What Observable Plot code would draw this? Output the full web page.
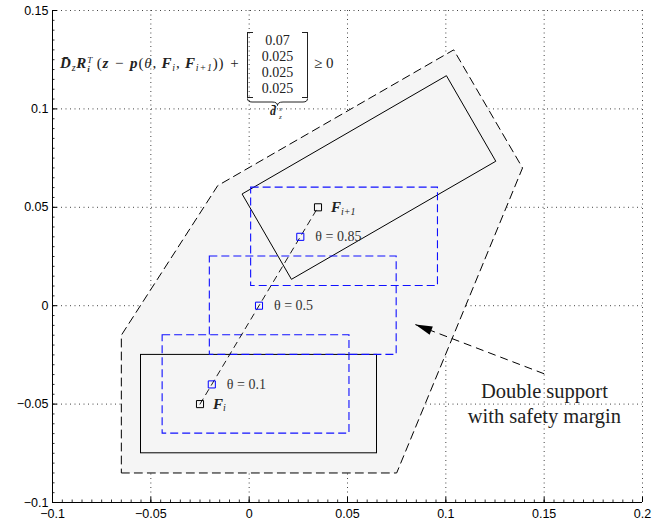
<!DOCTYPE html>
<html>
<head>
<meta charset="utf-8">
<script src="https://cdn.jsdelivr.net/npm/d3@7"></script>
<script src="https://cdn.jsdelivr.net/npm/@observablehq/plot@0.6"></script>
<style>
  body { margin: 0; background: #fff; }
  #chart { position: relative; width: 668px; height: 524px; }
  #eq { position: absolute; left: 0; top: 0; font-family: 'Liberation Serif', serif; color: #222; font-size: 13px; }
  #lhs { position: absolute; left: 60px; top: 54px; white-space: nowrap; line-height: 18px; font-size: 15px; letter-spacing: 0.8px; }
  .bv { font-weight: bold; font-style: italic; }
  .it { font-style: italic; }
  #lhs sub { font-size: 10px; vertical-align: -3px; line-height: 0; }
  .ss { display: inline-block; vertical-align: -4px; font-size: 9px; line-height: 9px; text-align: left; }
  .ss > span { display: block; }
  #mat { position: absolute; left: 247px; top: 32px; width: 61px; height: 66px; }
  .brk { position: absolute; top: 0; width: 5px; height: 64px; border: 1px solid #222; }
  .brk.l { left: 0; border-right: none; }
  .brk.r { right: 0; border-left: none; }
  #rows { position: absolute; left: 0; right: 0; top: 1px; text-align: center; line-height: 16px; font-size: 14px; }
  #geq { position: absolute; left: 314px; top: 54px; line-height: 18px; font-size: 15px; white-space: nowrap; }
  #brace { position: absolute; left: 247px; top: 98px; }
  #dlbl { position: absolute; left: 270px; top: 105px; font-size: 12px; line-height: 13px; white-space: nowrap; }
  #dlbl .ss { font-size: 7px; line-height: 8px; vertical-align: -4px; margin-left: 3px; }
</style>
</head>
<body>
<div id="chart"></div>
<script>
// Axis ticks and their labels
const xTicks = [-0.1, -0.05, 0, 0.05, 0.1, 0.15, 0.2];
const xTickLabels = ["−0.1", "−0.05", "0", "0.05", "0.1", "0.15", "0.2"];
const yTicks = [-0.1, -0.05, 0, 0.05, 0.1, 0.15];
const yTickLabels = ["−0.1", "−0.05", "0", "0.05", "0.1", "0.15"];

// Foot positions F_i and F_{i+1}
const footNames = ["i", "i+1"];
const footX = [-0.025, 0.035];
const footY = [-0.05, 0.05];

// Interpolated reference points p(θ)
const thetas = [0.1, 0.5, 0.85];
const comX = [-0.019, 0.005, 0.026];
const comY = [-0.04, 0.0, 0.035];

// Safety margins d_z^s: forward, backward, left, right
const margins = [0.07, 0.025, 0.025, 0.025];

// Support foot rectangle at F_i
const footRectX = [-0.055, 0.065];
const footRectY = [-0.075, -0.025];

// Rotated foot rectangle at F_{i+1} (corners)
const swingFootX = [-0.0035, 0.0215, 0.1254, 0.1004];
const swingFootY = [0.0566, 0.0134, 0.0734, 0.1167];

// Double-support polygon with safety margin (corners)
const hullX = [-0.065, 0.075, 0.139, 0.104, -0.016, -0.065];
const hullY = [-0.085, -0.085, 0.07, 0.13, 0.061, -0.015];

// Annotation
const noteText = "Double support\nwith safety margin";
const noteX = 0.1501;
const noteY = -0.0494;
const arrowFrom = [0.150, -0.0346];
const arrowTo = [0.0845, -0.0096];

const xLabel = new Map(xTicks.map((d, i) => [d, xTickLabels[i]]));
const yLabel = new Map(yTicks.map((d, i) => [d, yTickLabels[i]]));
const feet = footX.map((x, i) => ({x, y: footY[i], name: footNames[i]}));
const coms = thetas.map((t, i) => ({x: comX[i], y: comY[i], label: `θ = ${t}`}));
const comRects = coms.map(c => ({
  x1: c.x - margins[1], x2: c.x + margins[0],
  y1: c.y - margins[3], y2: c.y + margins[2]
}));
const swingFoot = swingFootX.map((x, i) => ({x, y: swingFootY[i]}));
const hull = hullX.map((x, i) => ({x, y: hullY[i]}));
const minorX = d3.range(-0.1, 0.2001, 0.005);
const minorY = d3.range(-0.1, 0.1501, 0.005);

// Filled arrowhead with its tip at the origin, pointing up
const arrowHead = {
  draw(ctx) {
    ctx.moveTo(0, 0);
    ctx.lineTo(-4.5, 17);
    ctx.lineTo(4.5, 17);
    ctx.closePath();
  }
};
const arrowAngle = Math.atan2(arrowTo[0] - arrowFrom[0], arrowTo[1] - arrowFrom[1]) * 180 / Math.PI;

const plotW = 668 - 52 - 26;
const plotH = 524 - 10 - 22;
const serif = "'Liberation Serif', 'Times New Roman', serif";

const chart = Plot.plot({
  width: 668,
  height: 524,
  marginLeft: 52,
  marginRight: 26,
  marginTop: 10,
  marginBottom: 22,
  x: {domain: [-0.1, 0.2]},
  y: {domain: [-0.1, 0.15]},
  style: {fontFamily: "'Liberation Sans', Arial, sans-serif", fontSize: "12.5px", color: "#000", background: "#fff"},
  marks: [
    // dotted grid
    Plot.ruleX(xTicks, {stroke: "#444", strokeDasharray: "1,3.5"}),
    Plot.ruleY(yTicks, {stroke: "#444", strokeDasharray: "1,3.5"}),
    // double-support region
    Plot.line(hull, {x: "x", y: "y", curve: "linear-closed", fill: "#f5f5f5", stroke: "#000", strokeWidth: 1, strokeDasharray: "8,5"}),
    // feet
    Plot.rect([{x1: footRectX[0], x2: footRectX[1], y1: footRectY[0], y2: footRectY[1]}],
      {x1: "x1", x2: "x2", y1: "y1", y2: "y2", fill: "none", stroke: "#000", strokeWidth: 1}),
    Plot.line(swingFoot, {x: "x", y: "y", curve: "linear-closed", stroke: "#000", strokeWidth: 1}),
    // margin boxes around p(θ)
    Plot.rect(comRects, {x1: "x1", x2: "x2", y1: "y1", y2: "y2", fill: "none", stroke: "#1010ff", strokeWidth: 1.1, strokeDasharray: "8,4"}),
    // path from F_i to F_{i+1}
    Plot.line(feet, {x: "x", y: "y", stroke: "#000", strokeWidth: 0.9, strokeDasharray: "6,5"}),
    Plot.dot(coms, {x: "x", y: "y", symbol: "square", r: 4, stroke: "#0000ff", fill: "none", strokeWidth: 1}),
    Plot.dot(feet, {x: "x", y: "y", symbol: "square", r: 4, stroke: "#000", fill: "none", strokeWidth: 1}),
    // labels
    Plot.text(coms, {x: "x", y: "y", text: "label", dx: 15, textAnchor: "start", fontFamily: serif, fontSize: 14, fill: "#333", ariaLabel: "theta labels"}),
    Plot.text(feet, {x: "x", y: "y", text: () => "F", dx: 13, textAnchor: "start", fontFamily: serif, fontSize: 15, fontWeight: "bold", fontStyle: "italic", fill: "#222"}),
    Plot.text(feet, {x: "x", y: "y", text: "name", dx: 23, dy: 4, textAnchor: "start", fontFamily: serif, fontSize: 10, fontStyle: "italic", fill: "#222"}),
    // annotation
    Plot.link([{x1: arrowFrom[0], y1: arrowFrom[1], x2: arrowTo[0], y2: arrowTo[1]}],
      {x1: "x1", y1: "y1", x2: "x2", y2: "y2", stroke: "#000", strokeWidth: 1, strokeDasharray: "8,5"}),
    Plot.dot([{x: arrowTo[0], y: arrowTo[1]}], {x: "x", y: "y", symbol: arrowHead, rotate: arrowAngle, fill: "#000", stroke: "none"}),
    Plot.text([{x: noteX, y: noteY}], {x: "x", y: "y", text: () => noteText, fontFamily: serif, fontSize: 20.5, lineHeight: 1.22, fill: "#222"}),
    // axes
    Plot.ruleX([-0.1], {stroke: "#000"}),
    Plot.ruleY([-0.1], {stroke: "#000"}),
    Plot.tickX(xTicks, {x: d => d, insetTop: plotH - 5, stroke: "#000"}),
    Plot.tickX(minorX, {x: d => d, insetTop: plotH - 2.5, stroke: "#000", strokeWidth: 0.8}),
    Plot.tickY(yTicks, {y: d => d, insetRight: plotW - 5, stroke: "#000"}),
    Plot.tickY(minorY, {y: d => d, insetRight: plotW - 2.5, stroke: "#000", strokeWidth: 0.8}),
    Plot.axisX(xTicks, {tickSize: 0, tickPadding: 7, tickFormat: d => xLabel.get(d), label: null}),
    Plot.axisY(yTicks, {tickSize: 0, tickPadding: 4, tickFormat: d => yLabel.get(d), label: null})
  ]
});

// Set θ in italics inside the θ labels
chart.querySelectorAll('g[aria-label="theta labels"] text').forEach(t => {
  const s = t.textContent;
  if (!s.startsWith("θ")) return;
  t.textContent = "";
  const ns = "http://www.w3.org/2000/svg";
  const a = document.createElementNS(ns, "tspan");
  a.setAttribute("font-style", "italic");
  a.textContent = "θ";
  const b = document.createElementNS(ns, "tspan");
  b.textContent = s.slice(1);
  t.append(a, b);
});

const host = document.getElementById("chart");
host.appendChild(chart);

// Constraint written above the plot
const eq = document.createElement("div");
eq.id = "eq";
eq.innerHTML = `
  <div id="lhs"><span class="bv">D̄</span><sub class="it">z</sub><span class="bv">R</span><span class="ss"><span class="it">T</span><span class="bv">i</span></span>&#8201;(<span class="bv">z</span>&#8196;−&#8196;<span class="bv">p</span>(<span class="it">θ</span>, <span class="bv">F</span><sub class="it">i</sub>, <span class="bv">F</span><sub class="it">i+1</sub>))&#8196;+</div>
  <div id="mat"><div class="brk l"></div><div class="brk r"></div>
    <div id="rows">${margins.map(m => `<div>${m}</div>`).join("")}</div></div>
  <div id="geq">≥ 0</div>
  <svg id="brace" width="61" height="8"><path d="M0.5,0.5 Q0.5,4 5,4 L25,4 Q30.5,4 30.5,7.5 Q30.5,4 36,4 L56,4 Q60.5,4 60.5,0.5" fill="none" stroke="#222" stroke-width="1"/></svg>
  <div id="dlbl"><span class="bv">d̄</span><span class="ss"><span class="it">s</span><span class="it">z</span></span></div>
`;
host.appendChild(eq);
</script>
</body>
</html>
